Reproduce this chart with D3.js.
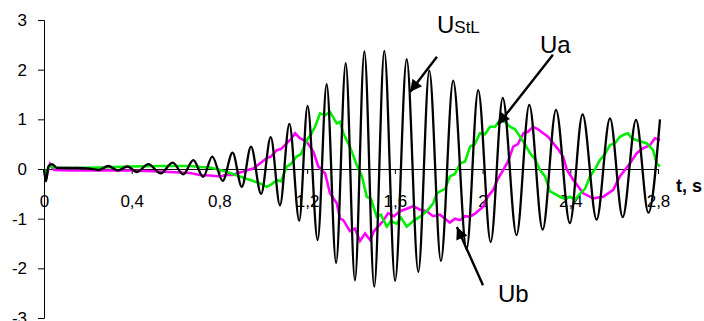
<!DOCTYPE html>
<html>
<head>
<meta charset="utf-8">
<script src="https://cdn.jsdelivr.net/npm/d3@7"></script>
<style>
  body { margin: 0; background: #ffffff; }
  svg { display: block; font-family: "Liberation Sans", Arial, sans-serif; }
</style>
</head>
<body>
<div id="chart"></div>
<script>
// tick labels
var xTicks = [0, 0.4, 0.8, 1.2, 1.6, 2, 2.4, 2.8];
var xTickLabels = ["0", "0,4", "0,8", "1,2", "1,6", "2", "2,4", "2,8"];
var yTicks = [-3, -2, -1, 0, 1, 2, 3];
var yTickLabels = ["-3", "-2", "-1", "0", "1", "2", "3"];

// UStL : start, then peaks / troughs of the oscillation [t, value]
var ustl = [
  [0, 0], [0.009, -0.25], [0.02, 0.05], [0.036, 0.1], [0.06, 0.02], [0.1, 0.02],
  [0.15, 0.02], [0.2, 0.01], [0.25, -0.02],
  [0.293, 0.06], [0.337, -0.03], [0.38, 0.05], [0.424, -0.06], [0.476, 0.1],
  [0.532, -0.09], [0.587, 0.13], [0.635, -0.11], [0.681, 0.18], [0.726, -0.16],
  [0.767, 0.25], [0.815, -0.24], [0.86, 0.33], [0.902, -0.36], [0.944, 0.45],
  [0.99, -0.5], [1.034, 0.64], [1.076, -0.73], [1.119, 0.91], [1.164, -1.04],
  [1.202, 1.27], [1.248, -1.43], [1.289, 1.71], [1.332, -1.89], [1.376, 2.13],
  [1.418, -2.24], [1.461, 2.37], [1.506, -2.37], [1.552, 2.38], [1.601, -2.25],
  [1.654, 2.21], [1.707, -2.07], [1.757, 1.98], [1.81, -1.85], [1.866, 1.78],
  [1.927, -1.62], [1.98, 1.59], [2.037, -1.47], [2.092, 1.43], [2.155, -1.33],
  [2.213, 1.29], [2.274, -1.22], [2.335, 1.19], [2.398, -1.09], [2.456, 1.1],
  [2.52, -1.02], [2.581, 1.02], [2.639, -0.97], [2.7, 0.99], [2.756, -0.88],
  [2.809, 1.0]
];

// Ua
var ua = [
  [0, 0], [0.009, -0.1], [0.027, 0.08], [0.046, 0.03], [0.119, 0.02], [0.255, 0.03],
  [0.392, 0.05], [0.529, 0.06], [0.666, 0.06], [0.711, 0.04], [0.757, 0.03],
  [0.803, -0.02], [0.848, -0.08], [0.894, -0.15], [0.94, -0.22], [0.985, -0.29],
  [1.016, -0.36], [1.04, -0.3], [1.061, -0.22], [1.081, -0.25], [1.107, 0.05],
  [1.126, 0.1], [1.152, 0.25], [1.172, 0.3], [1.198, 0.58], [1.218, 0.7],
  [1.236, 0.85], [1.259, 1.12], [1.282, 1.08], [1.304, 1.15], [1.335, 0.92],
  [1.35, 0.95], [1.365, 0.72], [1.395, 0.45], [1.426, 0.08], [1.45, -0.15],
  [1.472, -0.56], [1.491, -0.6], [1.517, -0.96], [1.537, -0.92], [1.563, -1.16],
  [1.582, -1.05], [1.608, -1.1], [1.628, -0.98], [1.654, -1.16], [1.683, -1.05],
  [1.715, -0.96], [1.745, -0.85], [1.775, -0.69], [1.791, -0.49], [1.806, -0.45],
  [1.829, -0.4], [1.851, -0.15], [1.874, -0.1], [1.897, 0.11], [1.92, 0.15],
  [1.943, 0.45], [1.965, 0.5], [1.988, 0.72], [2.011, 0.7], [2.034, 0.85],
  [2.057, 0.85], [2.08, 0.99], [2.102, 0.95], [2.125, 0.85], [2.148, 0.8],
  [2.171, 0.65], [2.193, 0.5], [2.216, 0.32], [2.239, 0.2], [2.262, -0.02],
  [2.285, -0.15], [2.307, -0.45], [2.33, -0.5], [2.353, -0.56], [2.376, -0.6],
  [2.399, -0.56], [2.421, -0.62], [2.444, -0.5], [2.467, -0.4], [2.49, -0.15],
  [2.513, 0.0], [2.535, 0.18], [2.558, 0.3], [2.581, 0.48], [2.604, 0.52],
  [2.626, 0.65], [2.649, 0.7], [2.663, 0.72], [2.68, 0.62], [2.703, 0.58],
  [2.725, 0.55], [2.748, 0.52], [2.778, 0.38], [2.794, 0.11], [2.809, 0.05]
];

// Ub
var ub = [
  [0, 0], [0.009, -0.2], [0.027, 0.1], [0.046, -0.02], [0.119, -0.03], [0.255, -0.03],
  [0.392, -0.03], [0.529, -0.05], [0.666, -0.08], [0.711, -0.12], [0.757, -0.13],
  [0.803, -0.15], [0.83, -0.12], [0.862, -0.12], [0.885, -0.08], [0.909, -0.05],
  [0.93, -0.02], [0.954, 0.01], [0.985, 0.11], [1.016, 0.22], [1.035, 0.25],
  [1.061, 0.38], [1.081, 0.4], [1.107, 0.52], [1.126, 0.6], [1.145, 0.72],
  [1.167, 0.62], [1.198, 0.55], [1.213, 0.45], [1.228, 0.35], [1.251, 0.05],
  [1.282, -0.09], [1.304, -0.49], [1.335, -0.69], [1.35, -1.0], [1.365, -1.03],
  [1.395, -1.25], [1.418, -1.2], [1.441, -1.45], [1.464, -1.3], [1.487, -1.43],
  [1.505, -1.25], [1.523, -1.16], [1.546, -1.05], [1.569, -0.89], [1.596, -0.95],
  [1.623, -0.85], [1.654, -0.8], [1.684, -0.75], [1.715, -0.82], [1.745, -0.85],
  [1.774, -0.95], [1.806, -0.92], [1.829, -1.0], [1.851, -1.08], [1.874, -1.0],
  [1.897, -1.03], [1.92, -0.95], [1.943, -0.96], [1.965, -0.9], [2.003, -0.76],
  [2.025, -0.55], [2.049, -0.42], [2.07, -0.2], [2.094, -0.02], [2.116, 0.15],
  [2.14, 0.45], [2.161, 0.5], [2.186, 0.72], [2.207, 0.75], [2.231, 0.85],
  [2.253, 0.8], [2.277, 0.72], [2.298, 0.65], [2.322, 0.52], [2.344, 0.4],
  [2.367, 0.25], [2.385, -0.02], [2.414, -0.22], [2.459, -0.49], [2.505, -0.59],
  [2.55, -0.56], [2.596, -0.42], [2.626, -0.15], [2.672, 0.11], [2.703, 0.32],
  [2.733, 0.42], [2.763, 0.48], [2.786, 0.62], [2.809, 0.58]
];

// annotations: label text, label anchor, arrow start, arrow tip (data units)
var notes = [
  {main: "U", sub: "StL", at: [1.792, 2.74], from: [1.792, 2.26], to: [1.669, 1.55]},
  {main: "Ua", sub: "", at: [2.262, 2.34], from: [2.321, 2.3], to: [2.07, 0.89]},
  {main: "Ub", sub: "", at: [2.07, -2.68], from: [2.002, -2.34], to: [1.883, -1.17]}
];

var width = 704, height = 321;

var svg = d3.select("#chart").append("svg")
  .attr("width", width)
  .attr("height", height);

var x = d3.scaleLinear().domain([0, 2.8]).range([44, 658]);
var y = d3.scaleLinear().domain([-3, 3]).range([318, 20]);

// y axis
svg.append("g")
  .attr("transform", "translate(44,0)")
  .call(d3.axisLeft(y).tickValues(yTicks).tickSize(6).tickPadding(11)
    .tickFormat(function(d, i) { return yTickLabels[i]; }))
  .call(function(g) {
    g.selectAll("text").style("font-size", "17px").attr("fill", "#000");
    g.selectAll("line,path").attr("stroke", "#000");
  });

// x axis through zero
svg.append("g")
  .attr("transform", "translate(0," + y(0) + ")")
  .call(d3.axisBottom(x).tickValues(xTicks).tickSize(5).tickSizeOuter(0).tickPadding(21)
    .tickFormat(function(d, i) { return xTickLabels[i]; }))
  .call(function(g) {
    g.selectAll("text").style("font-size", "17px").attr("fill", "#000");
    g.selectAll("line,path").attr("stroke", "#000");
  });

svg.append("text")
  .attr("x", 676)
  .attr("y", 192)
  .style("font-size", "18px")
  .style("font-weight", "bold")
  .text("t, s");

var stepLine = d3.line()
  .x(function(d) { return x(d[0]); })
  .y(function(d) { return y(d[1]); });

var waveLine = d3.line()
  .x(function(d) { return x(d[0]); })
  .y(function(d) { return y(d[1]); })
  .curve(d3.curveMonotoneX);

svg.append("path")
  .datum(ub)
  .attr("d", stepLine)
  .attr("fill", "none")
  .attr("stroke", "#ff00ff")
  .attr("stroke-width", 2.6);

svg.append("path")
  .datum(ua)
  .attr("d", stepLine)
  .attr("fill", "none")
  .attr("stroke", "#00ee00")
  .attr("stroke-width", 2.6);

svg.append("path")
  .datum(ustl)
  .attr("d", waveLine)
  .attr("fill", "none")
  .attr("stroke", "#000")
  .attr("stroke-width", 2.3);

// arrows
svg.append("defs").append("marker")
  .attr("id", "head")
  .attr("viewBox", "0 0 10 10")
  .attr("refX", 10)
  .attr("refY", 5)
  .attr("markerWidth", 6)
  .attr("markerHeight", 5)
  .attr("markerUnits", "strokeWidth")
  .attr("orient", "auto")
  .append("path")
  .attr("d", "M0,0L10,5L0,10z")
  .attr("fill", "#000");

var note = svg.selectAll(".note")
  .data(notes)
  .enter()
  .append("g")
  .attr("class", "note");

note.append("line")
  .attr("x1", function(d) { return x(d.from[0]); })
  .attr("y1", function(d) { return y(d.from[1]); })
  .attr("x2", function(d) { return x(d.to[0]); })
  .attr("y2", function(d) { return y(d.to[1]); })
  .attr("stroke", "#000")
  .attr("stroke-width", 2.4)
  .attr("marker-end", "url(#head)");

var label = note.append("text")
  .attr("x", function(d) { return x(d.at[0]); })
  .attr("y", function(d) { return y(d.at[1]); })
  .style("font-size", "24px");

label.append("tspan").text(function(d) { return d.main; });
label.append("tspan")
  .style("font-size", "17px")
  .text(function(d) { return d.sub; });
</script>
</body>
</html>
